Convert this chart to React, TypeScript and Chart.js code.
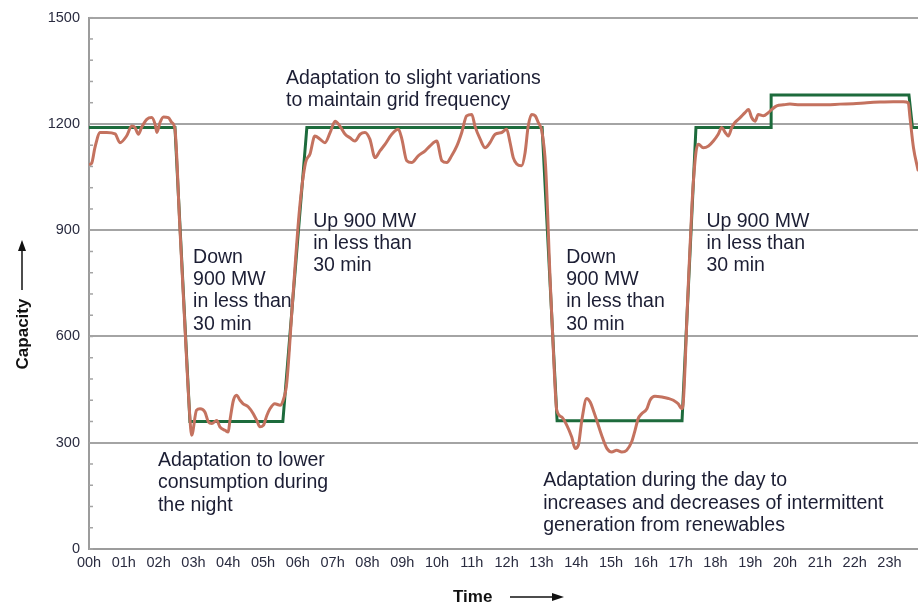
import React, { useEffect, useRef } from "react";
import { Chart, registerables } from "chart.js";

Chart.register(...registerables);

// ---- data ----
const hourLabels = [
  "00h", "01h", "02h", "03h", "04h", "05h", "06h", "07h", "08h", "09h", "10h", "11h",
  "12h", "13h", "14h", "15h", "16h", "17h", "18h", "19h", "20h", "21h", "22h", "23h",
];
const hourTicks = hourLabels.map((_, i) => i);
const capacityTicks = [0, 60, 120, 180, 240, 300, 360, 420, 480, 540, 600, 660, 720, 780, 840, 900, 960, 1020, 1080, 1140, 1200, 1260, 1320, 1380, 1440, 1500];

// scheduled capacity (green)
const planHours = [0, 2.47, 2.9, 5.57, 6.26, 13.02, 13.45, 17.04, 17.44, 19.6, 19.6, 23.56, 23.66, 23.82];
const planValues = [1190, 1190, 360, 360, 1190, 1190, 362, 362, 1190, 1190, 1282, 1282, 1190, 1190];

// actual output (red)
const actualHours = [
  0.0, 0.08, 0.17, 0.32, 0.51, 0.75, 0.89, 1.08, 1.23, 1.32, 1.42, 1.51, 1.66, 1.8, 1.9, 1.95,
  2.04, 2.14, 2.28, 2.38, 2.47, 2.6, 2.75, 2.88, 2.95, 3.09, 3.19, 3.33, 3.43, 3.53, 3.67, 3.76,
  3.91, 4.0, 4.05, 4.15, 4.24, 4.34, 4.43, 4.58, 4.72, 4.82, 4.91, 5.01, 5.11, 5.2, 5.34, 5.49,
  5.58, 5.68, 5.85, 6.05, 6.22, 6.35, 6.49, 6.64, 6.78, 6.93, 7.07, 7.21, 7.36, 7.5, 7.64, 7.79,
  7.93, 8.07, 8.22, 8.36, 8.51, 8.7, 8.89, 8.99, 9.13, 9.27, 9.46, 9.66, 9.8, 9.99, 10.14, 10.28,
  10.42, 10.57, 10.71, 10.85, 11.0, 11.09, 11.24, 11.38, 11.52, 11.67, 11.86, 12.0, 12.1, 12.19,
  12.29, 12.43, 12.53, 12.62, 12.72, 12.82, 12.91, 13.01, 13.12, 13.25, 13.38, 13.44, 13.58, 13.73,
  13.87, 13.97, 14.06, 14.16, 14.3, 14.4, 14.49, 14.59, 14.73, 14.88, 15.02, 15.16, 15.31, 15.45,
  15.59, 15.69, 15.78, 15.88, 16.03, 16.12, 16.26, 16.46, 16.65, 16.79, 16.93, 17.03, 17.08, 17.2,
  17.33, 17.44, 17.51, 17.65, 17.8, 17.94, 18.08, 18.18, 18.28, 18.37, 18.47, 18.56, 18.71, 18.85,
  18.95, 19.04, 19.14, 19.23, 19.38, 19.52, 19.62, 19.76, 19.95, 20.14, 20.43, 20.81, 21.2, 21.58,
  21.96, 22.35, 22.73, 23.11, 23.4, 23.54, 23.59, 23.69, 23.82,
];
const actualValues = [
  1085, 1090, 1133, 1176, 1176, 1172, 1147, 1166, 1194, 1190, 1171, 1190, 1213, 1218, 1199, 1176,
  1204, 1220, 1218, 1204, 1185, 930, 640, 400, 321, 392, 396, 387, 359, 354, 363, 345,
  335, 330, 363, 420, 434, 420, 410, 401, 382, 363, 345, 349, 377, 396, 410, 406,
  420, 467, 700, 960, 1090, 1115, 1166, 1157, 1147, 1176, 1208, 1194, 1171, 1161, 1152, 1171,
  1176, 1157, 1105, 1124, 1143, 1171, 1185, 1157, 1096, 1091, 1110, 1124, 1138, 1152, 1096, 1091,
  1110, 1138, 1176, 1223, 1227, 1194, 1157, 1133, 1147, 1171, 1176, 1185, 1147, 1105,
  1087, 1082, 1119, 1194, 1227, 1223, 1204, 1180, 1080, 760, 480, 392, 373, 349,
  316, 284, 293, 363, 425, 415, 392, 363, 321, 284, 274, 279, 274, 279,
  302, 335, 368, 382, 396, 420, 431, 429, 425, 420, 410, 396, 420, 700,
  980, 1120, 1143, 1133, 1138, 1152, 1171, 1190, 1176, 1166, 1190, 1204, 1218, 1232,
  1241, 1218, 1208, 1227, 1223, 1232, 1241, 1251, 1254, 1256, 1254, 1254, 1254, 1256,
  1257, 1260, 1262, 1263, 1263, 1260, 1218, 1133, 1070,
];

// annotation anchors (hour, MW of first baseline)
const annotations = [
  { h: 5.66, v: 1313, lines: ["Adaptation to slight variations", "to maintain grid frequency"] },
  { h: 2.99, v: 808, lines: ["Down", "900 MW", "in less than", "30 min"] },
  { h: 6.44, v: 910, lines: ["Up 900 MW", "in less than", "30 min"] },
  { h: 1.98, v: 234, lines: ["Adaptation to lower", "consumption during", "the night"] },
  { h: 13.71, v: 808, lines: ["Down", "900 MW", "in less than", "30 min"] },
  { h: 17.74, v: 910, lines: ["Up 900 MW", "in less than", "30 min"] },
  { h: 13.05, v: 177, lines: ["Adaptation during the day to", "increases and decreases of intermittent", "generation from renewables"] },
];

const TEXT = "#1c1e34";
const GRID = "#a4a4a4";
const FONT = '"Liberation Sans", Arial, sans-serif';

const overlay = {
  id: "overlay",
  afterDraw(chart: any) {
    const { ctx, chartArea } = chart;
    const x = chart.scales.x;
    const y = chart.scales.y;
    ctx.save();
    // minor ticks on y axis (inside)
    ctx.strokeStyle = GRID;
    ctx.lineWidth = 1.5;
    for (const v of capacityTicks) {
      const py = y.getPixelForValue(v);
      ctx.beginPath();
      ctx.moveTo(chartArea.left, py);
      ctx.lineTo(chartArea.left + 4, py);
      ctx.stroke();
    }
    // annotations
    ctx.fillStyle = TEXT;
    ctx.font = `19.5px ${FONT}`;
    ctx.textAlign = "left";
    ctx.textBaseline = "alphabetic";
    for (const a of annotations) {
      const px = x.getPixelForValue(a.h);
      const py = y.getPixelForValue(a.v);
      a.lines.forEach((line, i) => ctx.fillText(line, px, py + i * 22.3));
    }
    // axis titles
    ctx.font = `bold 17px ${FONT}`;
    ctx.fillStyle = "#111";
    ctx.strokeStyle = "#111";
    ctx.lineWidth = 1.5;
    // Capacity (rotated)
    ctx.save();
    ctx.translate(28, 334);
    ctx.rotate(-Math.PI / 2);
    ctx.textAlign = "center";
    ctx.fillText("Capacity", 0, 0);
    ctx.restore();
    ctx.beginPath();
    ctx.moveTo(22, 290);
    ctx.lineTo(22, 250);
    ctx.stroke();
    ctx.beginPath();
    ctx.moveTo(22, 240);
    ctx.lineTo(18, 251);
    ctx.lineTo(26, 251);
    ctx.closePath();
    ctx.fill();
    // Time
    ctx.textAlign = "left";
    ctx.fillText("Time", 453, 602);
    ctx.beginPath();
    ctx.moveTo(510, 597);
    ctx.lineTo(553, 597);
    ctx.stroke();
    ctx.beginPath();
    ctx.moveTo(564, 597);
    ctx.lineTo(552, 593);
    ctx.lineTo(552, 601);
    ctx.closePath();
    ctx.fill();
    ctx.restore();
  },
};

export default function App() {
  const ref = useRef<HTMLCanvasElement | null>(null);
  useEffect(() => {
    if (!ref.current) return;
    const chart = new Chart(ref.current, {
      type: "line",
      data: {
        datasets: [
          {
            label: "Actual",
            data: actualHours.map((h, i) => ({ x: h, y: actualValues[i] })),
            borderColor: "#c4725f",
            borderWidth: 3,
            pointRadius: 0,
            cubicInterpolationMode: "monotone",
            borderJoinStyle: "round",
            borderCapStyle: "round",
            order: 1,
          },
          {
            label: "Scheduled",
            data: planHours.map((h, i) => ({ x: h, y: planValues[i] })),
            borderColor: "#1d6b3c",
            borderWidth: 3,
            pointRadius: 0,
            tension: 0,
            order: 2,
          },
        ],
      },
      options: {
        animation: false,
        responsive: false,
        plugins: { legend: { display: false }, tooltip: { enabled: false } },
        layout: { padding: { top: 17, left: 0, right: 0, bottom: 0 } },
        scales: {
          x: {
            type: "linear",
            min: 0,
            max: 23.82,
            afterBuildTicks: (s: any) => {
              s.ticks = hourTicks.map((v) => ({ value: v }));
            },
            afterFit: (s: any) => {
              s.height = 55;
            },
            grid: { display: false, drawTicks: false },
            border: { display: true, color: "#9c9c9c", width: 2, dash: [2, 1.5] },
            ticks: {
              autoSkip: false,
              maxRotation: 0,
              padding: 5,
              color: "#2a2c40",
              font: { family: FONT, size: 14.5 },
              callback: (_v: any, i: number) => hourLabels[i],
            },
          },
          y: {
            type: "linear",
            min: 0,
            max: 1500,
            afterBuildTicks: (s: any) => {
              s.ticks = capacityTicks.map((v) => ({ value: v }));
            },
            afterFit: (s: any) => {
              s.width = 89;
            },
            grid: {
              drawTicks: false,
              lineWidth: 2,
              color: (c: any) =>
                c.tick && c.tick.value % 300 === 0 && c.tick.value !== 0 ? GRID : "rgba(0,0,0,0)",
            },
            border: { display: true, color: "#9c9c9c", width: 2 },
            ticks: {
              autoSkip: false,
              padding: 9,
              color: "#2a2c40",
              font: { family: FONT, size: 14.5 },
              callback: (v: any) => (Number(v) % 300 === 0 ? String(v) : ""),
            },
          },
        },
      },
      plugins: [overlay],
    });
    return () => chart.destroy();
  }, []);
  return (
    <div style={{ position: "absolute", left: 0, top: 0, width: 918, height: 604, background: "#fff" }}>
      <canvas ref={ref} width={918} height={604} style={{ display: "block" }} />
    </div>
  );
}
